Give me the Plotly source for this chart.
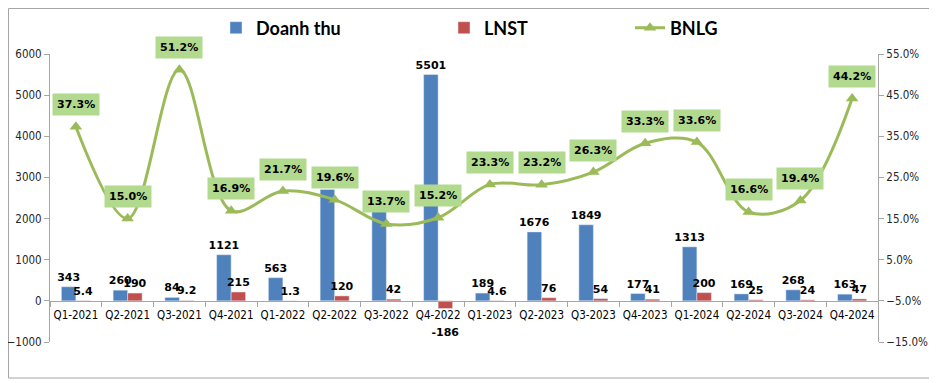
import plotly.graph_objects as go

categories = ["Q1-2021", "Q2-2021", "Q3-2021", "Q4-2021", "Q1-2022", "Q2-2022", "Q3-2022", "Q4-2022",
              "Q1-2023", "Q2-2023", "Q3-2023", "Q4-2023", "Q1-2024", "Q2-2024", "Q3-2024", "Q4-2024"]
doanh_thu = [343, 260, 84, 1121, 563, 2709, 2194, 5501, 189, 1676, 1849, 177, 1313, 169, 268, 163]
lnst = [5.4, 190, 9.2, 215, 1.3, 120, 42, -186, 4.6, 76, 54, 41, 200, 25, 24, 47]
bnlg = [37.3, 15.0, 51.2, 16.9, 21.7, 19.6, 13.7, 15.2, 23.3, 23.2, 26.3, 33.3, 33.6, 16.6, 19.4, 44.2]

# negative labels sit one line lower (below the category label), as in the original
lnst_labels = [("%g" % v) if v >= 0 else ("\u00a0<br>%g" % v) for v in lnst]
bnlg_frac = [v / 100 for v in bnlg]

BLUE = "#4F81BD"
RED = "#C0504D"
GREEN = "#9BBB59"
LABEL_BG = "#B2DA8E"

# page body has an 8px margin, so figure coordinates = page coordinates - 8
W, H = 929, 375
L, R, T, B = 42, 59, 46, 41
PW, PH = W - L - R, H - T - B

lab_font = dict(family="DejaVu Sans", size=11, color="#000000", weight="bold")
leg_font = dict(family="Lato", size=18, color="#000000", weight="bold")
cond = "DejaVu Sans Condensed, DejaVu Sans"

fig = go.Figure()
fig.add_trace(go.Bar(
    x=categories, y=doanh_thu, name="Doanh thu", marker_color=BLUE,
    text=[str(v) for v in doanh_thu], textposition="outside", textfont=lab_font,
    constraintext="none", cliponaxis=False, legend="legend",
))
fig.add_trace(go.Bar(
    x=categories, y=lnst, name="LNST", marker_color=RED,
    text=lnst_labels, textposition="outside", textfont=lab_font,
    constraintext="none", cliponaxis=False, legend="legend2",
))
fig.add_trace(go.Scatter(
    x=categories, y=bnlg_frac, name="BNLG", yaxis="y2", mode="lines+markers",
    line=dict(color=GREEN, width=3, shape="spline", smoothing=1.0),
    marker=dict(symbol="triangle-up", size=11, color=GREEN),
    cliponaxis=False, legend="legend3",
))

for c, v in zip(categories, bnlg_frac):
    fig.add_annotation(
        x=c, y=v, xref="x", yref="y2", text="%.1f%%" % (v * 100), showarrow=False,
        yshift=22, bgcolor=LABEL_BG, font=lab_font, borderpad=4,
    )

# outer border
fig.add_shape(type="rect", xref="paper", yref="paper",
              x0=(0.5 - L) / PW, x1=(925 - L) / PW, y0=(T + PH - 370) / PH, y1=(T + PH - 0.5) / PH,
              line=dict(color="#A6A6A6", width=1), fillcolor="rgba(0,0,0,0)", layer="below")

axis_font = dict(family=cond, size=11.5, color="#262626")
leg_y = (T + PH - 20) / PH

fig.update_layout(
    width=W, height=H, margin=dict(l=L, r=R, t=T, b=B, autoexpand=False),
    paper_bgcolor="white", plot_bgcolor="white",
    barmode="group", bargap=0.44, bargroupgap=0.0,
    showlegend=True,
    legend=dict(x=(208 - L) / PW, y=leg_y, xanchor="left", yanchor="middle",
                orientation="h", font=leg_font, bgcolor="rgba(0,0,0,0)"),
    legend2=dict(x=(436 - L) / PW, y=leg_y, xanchor="left", yanchor="middle",
                 orientation="h", font=leg_font, bgcolor="rgba(0,0,0,0)"),
    legend3=dict(x=(622 - L) / PW, y=leg_y, xanchor="left", yanchor="middle",
                 orientation="h", font=leg_font, bgcolor="rgba(0,0,0,0)"),
    xaxis=dict(
        range=[-0.5, len(categories) - 0.5],
        anchor="free", position=1000 / 7000, showline=True, linecolor="#A6A6A6", linewidth=1,
        ticks="outside", tickson="boundaries", ticklen=5, tickcolor="#A6A6A6", tickangle=0,
        ticklabelstandoff=3,
        tickfont=dict(family=cond, size=11.5, color="#000000"), showgrid=False,
        zeroline=False,
    ),
    yaxis=dict(
        range=[-1000, 6000], dtick=1000, tick0=0, showline=True, linecolor="#A6A6A6",
        ticks="outside", ticklen=5, tickcolor="#A6A6A6", showgrid=False, zeroline=False,
        tickfont=axis_font,
    ),
    yaxis2=dict(
        range=[-0.15, 0.55], dtick=0.1, tick0=-0.15, tickformat=".1%", overlaying="y", side="right",
        showline=True, linecolor="#A6A6A6", ticks="outside", ticklen=5, tickcolor="#A6A6A6",
        showgrid=False, zeroline=False, tickfont=axis_font,
    ),
)

fig.write_html("out.html")
